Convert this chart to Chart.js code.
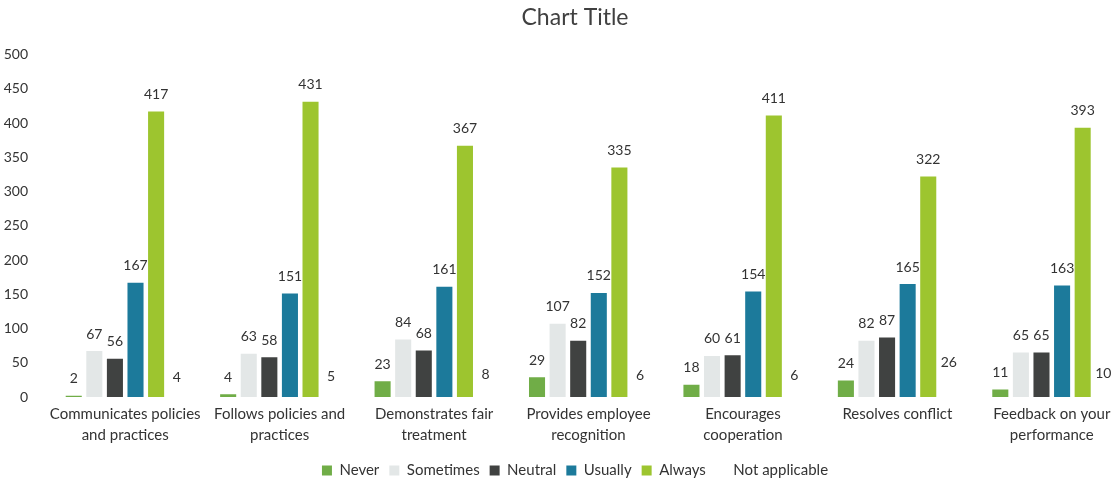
<!DOCTYPE html>
<html>
<head>
<meta charset="utf-8">
<script src="https://cdn.jsdelivr.net/npm/chart.js@4"></script>
<style>
  html, body { margin: 0; padding: 0; background: #fff; overflow: hidden; }
  #wrap { width: 1150px; height: 483px; position: relative; }
</style>
</head>
<body>
<div id="wrap"><canvas id="chartContainer"></canvas></div>
<script>
var categories = [
  ['Communicates policies', 'and practices'],
  ['Follows policies and', 'practices'],
  ['Demonstrates fair', 'treatment'],
  ['Provides employee', 'recognition'],
  ['Encourages', 'cooperation'],
  ['Resolves conflict'],
  ['Feedback on your', 'performance']
];
var never         = [2, 4, 23, 29, 18, 24, 11];
var sometimes     = [67, 63, 84, 107, 60, 82, 65];
var neutral       = [56, 58, 68, 82, 61, 87, 65];
var usually       = [167, 151, 161, 152, 154, 165, 163];
var always        = [417, 431, 367, 335, 411, 322, 393];
var notApplicable = [4, 5, 8, 6, 6, 26, 10];
var yTicks = [0, 50, 100, 150, 200, 250, 300, 350, 400, 450, 500];

var font = 'Lato, "Open Sans", sans-serif';

// value labels above every bar
var valueLabels = {
  id: 'valueLabels',
  afterDatasetsDraw: function (chart) {
    var ctx = chart.ctx;
    ctx.save();
    ctx.font = '14px ' + font;
    ctx.fillStyle = '#333333';
    ctx.textAlign = 'center';
    ctx.textBaseline = 'bottom';
    chart.data.datasets.forEach(function (ds, i) {
      var meta = chart.getDatasetMeta(i);
      meta.data.forEach(function (bar, j) {
        ctx.fillText(ds.data[j], bar.x, bar.y - 10);
      });
    });
    ctx.restore();
  }
};

var myChart = document.getElementById('chartContainer').getContext('2d');
var popChart = new Chart(myChart, {
  type: 'bar',
  data: {
    labels: categories,
    datasets: [
      { label: 'Never', data: never, backgroundColor: '#70AD47' },
      { label: 'Sometimes', data: sometimes, backgroundColor: '#E3E7E7' },
      { label: 'Neutral', data: neutral, backgroundColor: '#404241' },
      { label: 'Usually', data: usually, backgroundColor: '#1C7A9B' },
      { label: 'Always', data: always, backgroundColor: '#9DC52F' },
      { label: 'Not applicable', data: notApplicable, backgroundColor: '#FFFFFF' }
    ]
  },
  options: {
    responsive: true,
    maintainAspectRatio: false,
    animation: false,
    datasets: { bar: { categoryPercentage: 0.8, barPercentage: 0.78 } },
    layout: { padding: { left: 21, right: 21, top: 0, bottom: -5 } },
    plugins: {
      title: {
        display: true,
        text: 'Chart Title',
        color: '#404040',
        font: { family: font, size: 23, weight: 'normal' },
        padding: { top: 4, bottom: 23 }
      },
      legend: {
        position: 'bottom',
        labels: {
          color: '#333333',
          font: { family: font, size: 15 },
          boxWidth: 10,
          boxHeight: 10,
          padding: 10
        }
      },
      tooltip: { enabled: false }
    },
    scales: {
      x: {
        grid: { display: false },
        border: { display: false },
        afterFit: function (scale) { scale.height = 56; },
        ticks: {
          color: '#333333',
          font: { family: font, size: 15, lineHeight: 1.45 },
          maxRotation: 0,
          autoSkip: false,
          padding: -2
        }
      },
      y: {
        min: 0,
        max: 500,
        grid: { display: false },
        border: { display: false },
        afterFit: function (scale) {
          scale.width = 27;
          // let the tick labels reach into the left padding
          scale._computeLabelArea = function () { return undefined; };
        },
        afterBuildTicks: function (scale) {
          scale.ticks = yTicks.map(function (v) { return { value: v }; });
        },
        ticks: {
          color: '#333333',
          font: { family: font, size: 14 },
          padding: 12
        }
      }
    }
  },
  plugins: [valueLabels]
});
</script>
</body>
</html>
